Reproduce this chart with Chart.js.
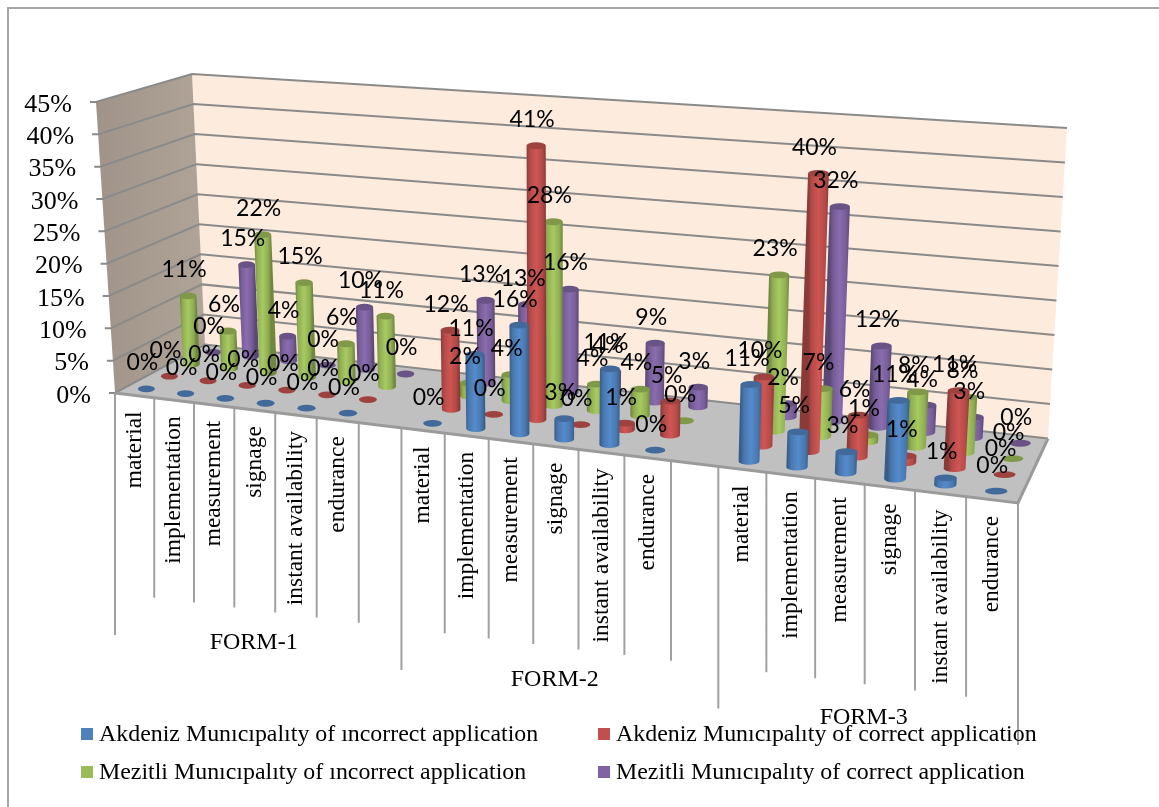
<!DOCTYPE html>
<html lang="en">
<head>
<meta charset="UTF-8">
<title>Municipality applications by form</title>
<script src="https://cdn.jsdelivr.net/npm/chart.js@4"></script>
<style>
    html, body { margin: 0; padding: 0; background: #fff; }
    canvas { display: block; }
</style>
</head>
<body>
<canvas id="chart" width="1159" height="807"></canvas>
<script>
const categories = ['material', 'implementation', 'measurement', 'signage', 'instant availability', 'endurance', '',
    'material', 'implementation', 'measurement', 'signage', 'instant availability', 'endurance', '',
    'material', 'implementation', 'measurement', 'signage', 'instant availability', 'endurance'];
const groups = ['FORM-1', 'FORM-2', 'FORM-3'];
const groupSpans = [[0, 7], [7, 14], [14, 20]];

const akdenizIncorrect = [0, 0, 0, 0, 0, 0, null, 0, 11, 16, 3, 11, 0, null, 11, 5, 3, 11, 1, 0];
const akdenizCorrect = [0, 0, 0, 0, 0, 0, null, 12, 0, 41, 0, 1, 5, null, 10, 40, 6, 1, 11, 0];
const mezitliIncorrect = [11, 6, 22, 15, 6, 11, null, 2, 4, 28, 4, 4, 0, null, 23, 7, 1, 8, 8, 0];
const mezitliCorrect = [0, 15, 4, 0, 10, 0, null, 13, 13, 16, 4, 9, 3, null, 2, 32, 12, 4, 3, 0];

const seriesNames = ['Akdeniz Munıcıpalıty of ıncorrect application', 'Akdeniz Munıcıpalıty of correct application',
    'Mezitli Munıcıpalıty of ıncorrect application', 'Mezitli Munıcıpalıty of correct application'];
const seriesColors = ['#4f81bd', '#c0504d', '#9bbb59', '#8064a2'];

// corners of the 3D floor on the page: front-left, front-right, back-right, back-left
const floorQuad = [[115, 393], [1018, 503], [1048, 438.5], [205, 344.5]];
// how far the top of the value axis sits from each floor corner
const riseAt = [[-19, -291], [20, -330], [19, -310.5], [-13, -270.5]];

function quadMap(q) {
    const [[x0, y0], [x1, y1], [x2, y2], [x3, y3]] = q;
    const sx = x0 - x1 + x2 - x3, sy = y0 - y1 + y2 - y3;
    const dx1 = x1 - x2, dx2 = x3 - x2, dy1 = y1 - y2, dy2 = y3 - y2;
    const den = dx1 * dy2 - dx2 * dy1;
    const g = (sx * dy2 - dx2 * sy) / den, h = (dx1 * sy - sx * dy1) / den;
    const a = x1 - x0 + g * x1, b = x3 - x0 + h * x3, d = y1 - y0 + g * y1, e = y3 - y0 + h * y3;
    return (u, w) => {
        const k = g * u + h * w + 1;
        return { x: (a * u + b * w + x0) / k, y: (d * u + e * w + y0) / k };
    };
}
const floorAt = quadMap(floorQuad);

// u along the categories, w into the depth, t up the value axis (all 0..1)
function project(u, w, t) {
    const f = floorAt(u, w);
    const l = floorAt(0, w), r = floorAt(1, w);
    const s = (f.x - l.x) / (r.x - l.x);
    const mix = i => (riseAt[0][i] * (1 - s) + riseAt[1][i] * s) * (1 - w) + (riseAt[3][i] * (1 - s) + riseAt[2][i] * s) * w;
    return { x: f.x + mix(0) * t, y: f.y + mix(1) * t };
}

function uOf(chart, px) {
    const a = chart.chartArea;
    return (px - a.left) / (a.right - a.left);
}
function tOf(chart, py) {
    const a = chart.chartArea;
    return (a.bottom - py) / (a.bottom - a.top);
}
function depthOf(i) {
    return 0.125 + 0.25 * i;
}

function shade(hex, f) {
    const n = parseInt(hex.slice(1), 16);
    const c = [n >> 16, (n >> 8) & 255, n & 255].map(v => Math.min(255, Math.round(v * f)));
    return 'rgb(' + c.join(',') + ')';
}

function polygon(ctx, pts) {
    ctx.beginPath();
    pts.forEach((p, i) => i ? ctx.lineTo(p.x, p.y) : ctx.moveTo(p.x, p.y));
    ctx.closePath();
}

class CylinderController extends Chart.BarController {
    draw() {
        const meta = this.getMeta();
        const chart = this.chart;
        const ctx = chart.ctx;
        const color = this.getDataset().backgroundColor;
        const w = depthOf(meta.index);
        const du = 0.22 / categories.length;
        meta.data.forEach((bar, i) => {
            if (this.getDataset().data[i] == null) return;
            const u = uOf(chart, bar.x);
            const t = tOf(chart, bar.y);
            const b = project(u, w, 0);
            const c = project(u, w, t);
            const rx = (project(u + du, w, 0).x - project(u - du, w, 0).x) / 2;
            const ry = 3.4;
            ctx.save();
            if (t > 0) {
                const grad = ctx.createLinearGradient(c.x - rx, 0, c.x + rx, 0);
                grad.addColorStop(0, shade(color, 0.72));
                grad.addColorStop(0.18, shade(color, 0.93));
                grad.addColorStop(0.5, shade(color, 1.08));
                grad.addColorStop(0.82, shade(color, 0.93));
                grad.addColorStop(1, shade(color, 0.72));
                ctx.fillStyle = grad;
                ctx.beginPath();
                ctx.moveTo(c.x - rx, c.y);
                ctx.lineTo(c.x + rx, c.y);
                ctx.lineTo(b.x + rx, b.y);
                ctx.ellipse(b.x, b.y, rx, ry, 0, 0, Math.PI);
                ctx.closePath();
                ctx.fill();
            }
            ctx.fillStyle = shade(color, 0.82);
            ctx.beginPath();
            ctx.ellipse(c.x, c.y, rx, ry, 0, 0, Math.PI * 2);
            ctx.fill();
            ctx.restore();
        });
    }
}
CylinderController.id = 'cylinder';
Chart.register(CylinderController);

const boxPlugin = {
    id: 'box',
    beforeDatasetsDraw(chart) {
        const ctx = chart.ctx;
        const y = chart.scales.y;
        ctx.save();

        // frame of the picture
        ctx.strokeStyle = '#a6a6a6';
        ctx.lineWidth = 2;
        ctx.beginPath();
        ctx.moveTo(8, 807);
        ctx.lineTo(8, 8);
        ctx.lineTo(1159, 8);
        ctx.stroke();

        // walls and floor
        ctx.fillStyle = '#fdebdd';
        polygon(ctx, [project(0, 1, 0), project(1, 1, 0), project(1, 1, 1), project(0, 1, 1)]);
        ctx.fill();
        const wall = ctx.createLinearGradient(96, 0, 205, 0);
        wall.addColorStop(0, '#a0948a');
        wall.addColorStop(1, '#b0a498');
        ctx.fillStyle = wall;
        polygon(ctx, [project(0, 0, 0), project(0, 1, 0), project(0, 1, 1), project(0, 0, 1)]);
        ctx.fill();
        ctx.fillStyle = '#c0c0c0';
        polygon(ctx, [project(0, 0, 0), project(1, 0, 0), project(1, 1, 0), project(0, 1, 0)]);
        ctx.fill();

        // value gridlines with their tick labels
        ctx.strokeStyle = '#8a8a8a';
        ctx.lineWidth = 2;
        ctx.fillStyle = '#000';
        ctx.font = '26px "Liberation Serif"';
        ctx.textAlign = 'right';
        ctx.textBaseline = 'middle';
        y.ticks.forEach(tick => {
            const t = tOf(chart, y.getPixelForValue(tick.value));
            const a = project(0, 0, t), b = project(0, 1, t), c = project(1, 1, t);
            ctx.beginPath();
            ctx.moveTo(a.x - 6, a.y);
            ctx.lineTo(a.x, a.y);
            ctx.lineTo(b.x, b.y);
            ctx.lineTo(c.x, c.y);
            ctx.stroke();
            ctx.fillText(tick.value + '%', a.x - 24, a.y + 3);
        });

        // category ticks down from the floor edge
        const n = categories.length;
        ctx.strokeStyle = '#a0a0a0';
        ctx.beginPath();
        for (let i = 0; i <= n; i++) {
            const p = project(i / n, 0, 0);
            const long = i === 0 || i === n || groupSpans.some(s => s[0] === i);
            ctx.moveTo(p.x, p.y);
            ctx.lineTo(p.x, p.y + (long ? 242 : 200));
        }
        ctx.stroke();
        ctx.lineWidth = 3;
        ctx.strokeStyle = '#9a9a9a';
        ctx.beginPath();
        const e0 = project(0, 0, 0), e1 = project(1, 0, 0), e2 = project(1, 1, 0);
        ctx.moveTo(e0.x, e0.y);
        ctx.lineTo(e1.x, e1.y);
        ctx.lineTo(e2.x, e2.y);
        ctx.stroke();

        // category labels, rotated
        ctx.fillStyle = '#000';
        ctx.font = '23.5px "Liberation Serif"';
        ctx.textBaseline = 'middle';
        categories.forEach((label, i) => {
            const p = project((i + 0.5) / n, 0, 0);
            ctx.save();
            ctx.translate(p.x, p.y + 16);
            ctx.rotate(-Math.PI / 2);
            ctx.textAlign = 'right';
            ctx.fillText(label, 0, 0);
            ctx.restore();
        });

        // group labels
        ctx.font = '24px "Liberation Serif"';
        ctx.textAlign = 'center';
        groups.forEach((label, i) => {
            const p = project((groupSpans[i][0] + groupSpans[i][1]) / 2 / n, 0, 0);
            ctx.fillText(label, p.x - 1, p.y + 233);
        });
        ctx.restore();
    },
    afterDatasetsDraw(chart) {
        const ctx = chart.ctx;
        ctx.save();

        // value labels on top of everything
        ctx.fillStyle = '#000';
        ctx.font = '23px Lato';
        ctx.textAlign = 'center';
        ctx.textBaseline = 'middle';
        chart.data.datasets.forEach((ds, k) => {
            const meta = chart.getDatasetMeta(k);
            meta.data.forEach((bar, i) => {
                if (ds.data[i] == null) return;
                const c = project(uOf(chart, bar.x), depthOf(k), tOf(chart, bar.y));
                ctx.fillText(ds.data[i] + '%', c.x - 4, c.y - 26);
            });
        });

        // two column legend
        ctx.font = '23.9px "Liberation Serif"';
        ctx.textAlign = 'left';
        chart.data.datasets.forEach((ds, k) => {
            const col = k % 2, row = Math.floor(k / 2);
            const x = col ? 598 : 81;
            const y = 735 + row * 38;
            ctx.fillStyle = ds.backgroundColor;
            ctx.fillRect(x, y - 7, 12, 12);
            ctx.fillStyle = '#000';
            ctx.fillText(ds.label, x + 18, y);
        });
        ctx.restore();
    }
};

new Chart(document.getElementById('chart'), {
    type: 'cylinder',
    data: {
        labels: categories,
        datasets: [akdenizIncorrect, akdenizCorrect, mezitliIncorrect, mezitliCorrect].map((data, i) => ({
            label: seriesNames[i],
            data: data,
            backgroundColor: seriesColors[i],
            grouped: false,
            clip: false
        }))
    },
    plugins: [boxPlugin],
    options: {
        responsive: false,
        animation: false,
        layout: { padding: { left: 115, right: 141, top: 102, bottom: 414 } },
        plugins: { legend: { display: false }, tooltip: { enabled: false } },
        scales: {
            x: { display: false },
            y: {
                min: 0,
                max: 45,
                ticks: { stepSize: 5, display: false },
                grid: { display: false },
                border: { display: false }
            }
        }
    }
});
</script>
</body>
</html>
